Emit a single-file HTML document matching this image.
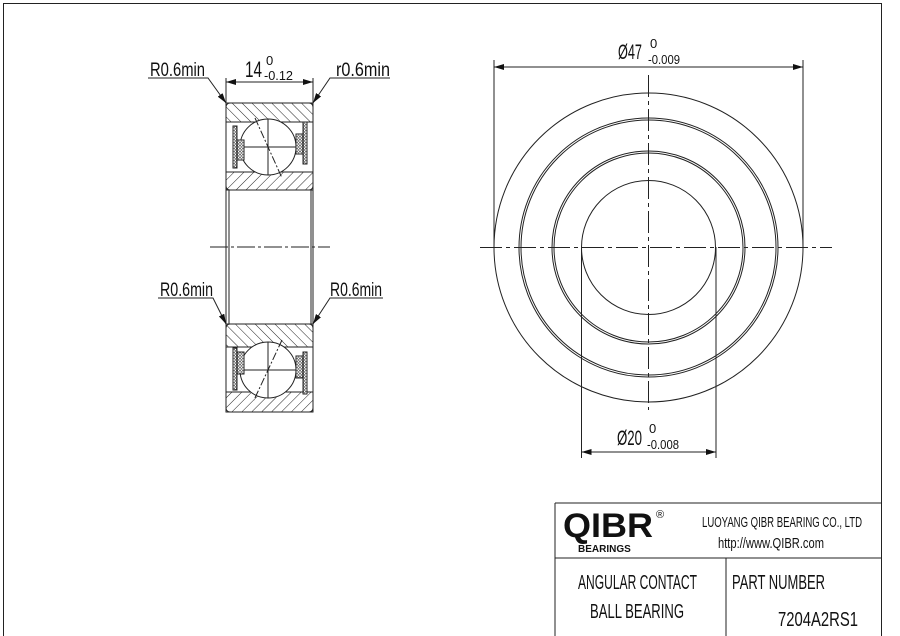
<!DOCTYPE html>
<html><head><meta charset="utf-8"><style>
body{margin:0;background:#fff}
svg{display:block}
text{font-family:"Liberation Sans Narrow","Liberation Sans",sans-serif;fill:#111}
</style></head><body>
<svg width="900" height="636" viewBox="0 0 900 636" xmlns="http://www.w3.org/2000/svg">
<defs>
<pattern id="h1" width="7" height="7" patternUnits="userSpaceOnUse" patternTransform="rotate(45)"><line x1="0" y1="0" x2="0" y2="7" stroke="#222" stroke-width="1"/></pattern>
<pattern id="h2" width="7" height="7" patternUnits="userSpaceOnUse" patternTransform="rotate(-45)"><line x1="0" y1="0" x2="0" y2="7" stroke="#222" stroke-width="1"/></pattern>
<pattern id="xh" width="3" height="3" patternUnits="userSpaceOnUse"><rect width="3" height="3" fill="#fff"/><circle cx="1.5" cy="1.5" r="1" fill="none" stroke="#222" stroke-width="0.6"/></pattern>
<marker id="ar" viewBox="0 0 10 6" refX="10" refY="3" markerWidth="10" markerHeight="6" orient="auto-start-reverse" markerUnits="userSpaceOnUse"><path d="M0,0L10,3L0,6z" fill="#111"/></marker>
</defs>
<g fill="none" stroke="#222" stroke-width="1">
<rect x="3.5" y="3.5" width="878" height="640"/>

<rect x="226" y="103" width="87" height="87" fill="#fff"/>
<path d="M226,103H313V122H226Z" fill="url(#h2)"/>
<path d="M226,172H313V190H226Z" fill="url(#h1)"/>
<rect x="226" y="103" width="87" height="87" rx="4"/>
<line x1="226" y1="122" x2="313" y2="122"/>
<line x1="226" y1="172" x2="313" y2="172"/>
<circle cx="268" cy="147" r="28" fill="#fff"/>
<line x1="240" y1="147" x2="296" y2="147"/><line x1="268" y1="119" x2="268" y2="175"/>
<line x1="255" y1="118" x2="282" y2="178" stroke-dasharray="8,2,2,2"/>
<rect x="233" y="126" width="4" height="42" fill="url(#xh)"/>
<rect x="303" y="122" width="4" height="42" fill="url(#xh)"/>
<rect x="237" y="140" width="7" height="20" fill="url(#xh)"/>
<rect x="296" y="134" width="7" height="20" fill="url(#xh)"/>
<line x1="229" y1="190" x2="229" y2="324"/><line x1="311" y1="190" x2="311" y2="324"/>
<line x1="226" y1="190" x2="226" y2="324"/><line x1="313" y1="190" x2="313" y2="324"/>
<rect x="226" y="324" width="87" height="88" fill="#fff"/>
<path d="M226,324H313V347H226Z" fill="url(#h2)"/>
<path d="M226,392H313V412H226Z" fill="url(#h1)"/>
<rect x="226" y="324" width="87" height="88" rx="4"/>
<line x1="226" y1="347" x2="313" y2="347"/>
<line x1="226" y1="392" x2="313" y2="392"/>
<circle cx="268" cy="370" r="28" fill="#fff"/>
<line x1="240" y1="370" x2="296" y2="370"/><line x1="268" y1="342" x2="268" y2="398"/>
<line x1="282" y1="340" x2="254" y2="400" stroke-dasharray="8,2,2,2"/>
<rect x="233" y="348" width="4" height="42" fill="url(#xh)"/>
<rect x="303" y="352" width="4" height="42" fill="url(#xh)"/>
<rect x="237" y="352" width="7" height="22" fill="url(#xh)"/>
<rect x="296" y="356" width="7" height="22" fill="url(#xh)"/>
<line x1="210" y1="247" x2="330" y2="247" stroke-dasharray="18,3,3,3"/>
<line x1="226" y1="78" x2="226" y2="103"/><line x1="313" y1="78" x2="313" y2="103"/>
<line x1="226" y1="82" x2="313" y2="82" marker-start="url(#ar)" marker-end="url(#ar)"/>
<polyline points="148,78 208,78 226,103" marker-end="url(#ar)"/>
<polyline points="390,78 330,78 313,103" marker-end="url(#ar)"/>
<polyline points="158,298 213,298 226,324" marker-end="url(#ar)"/>
<polyline points="383,298 330,298 313,324" marker-end="url(#ar)"/>

<circle cx="648.5" cy="247.5" r="154.5"/>
<circle cx="648.5" cy="247.5" r="129.5"/><circle cx="648.5" cy="247.5" r="127.5"/>
<circle cx="648.5" cy="247.5" r="96.5"/><circle cx="648.5" cy="247.5" r="94.5"/>
<circle cx="648.5" cy="247.5" r="67"/>
<line x1="480" y1="247.5" x2="832" y2="247.5" stroke-dasharray="22,4,4,4"/>
<line x1="648.5" y1="75" x2="648.5" y2="410" stroke-dasharray="22,4,4,4"/>
<line x1="494" y1="60" x2="494" y2="247"/><line x1="803" y1="60" x2="803" y2="247"/>
<line x1="494" y1="67" x2="803" y2="67" marker-start="url(#ar)" marker-end="url(#ar)"/>
<line x1="581.5" y1="247" x2="581.5" y2="458"/><line x1="716" y1="247" x2="716" y2="458"/>
<line x1="581.5" y1="452" x2="716" y2="452" marker-start="url(#ar)" marker-end="url(#ar)"/>

<line x1="555" y1="503" x2="882" y2="503"/>
<line x1="555" y1="503" x2="555" y2="636"/>
<line x1="555" y1="558" x2="882" y2="558"/>
<line x1="726" y1="558" x2="726" y2="636"/>
</g>
<g font-size="19">
<text x="150" y="76" textLength="55" lengthAdjust="spacingAndGlyphs">R0.6min</text>
<text x="336" y="76" textLength="54" lengthAdjust="spacingAndGlyphs">r0.6min</text>
<text x="160" y="296" textLength="53" lengthAdjust="spacingAndGlyphs">R0.6min</text>
<text x="330" y="296" textLength="52" lengthAdjust="spacingAndGlyphs">R0.6min</text>
<text x="245" y="77" font-size="22" textLength="17" lengthAdjust="spacingAndGlyphs">14</text>
<text x="266" y="65" font-size="13">0</text>
<text x="264" y="80" font-size="13" textLength="29" lengthAdjust="spacingAndGlyphs">-0.12</text>
<text x="618" y="59" font-size="21" textLength="24" lengthAdjust="spacingAndGlyphs">Ø47</text>
<text x="650" y="48" font-size="13">0</text>
<text x="648" y="64" font-size="13" textLength="32" lengthAdjust="spacingAndGlyphs">-0.009</text>
<text x="617" y="445" font-size="21" textLength="25" lengthAdjust="spacingAndGlyphs">Ø20</text>
<text x="649" y="433" font-size="13">0</text>
<text x="647" y="449" font-size="13" textLength="32" lengthAdjust="spacingAndGlyphs">-0.008</text>
<text x="702" y="527" font-size="15" textLength="160" lengthAdjust="spacingAndGlyphs">LUOYANG QIBR BEARING CO., LTD</text>
<text x="718" y="548" font-size="15" textLength="106" lengthAdjust="spacingAndGlyphs">http://www.QIBR.com</text>
<text x="578" y="589" font-size="20" textLength="119" lengthAdjust="spacingAndGlyphs">ANGULAR CONTACT</text>
<text x="590" y="618" font-size="20" textLength="94" lengthAdjust="spacingAndGlyphs">BALL BEARING</text>
<text x="732" y="589" font-size="20" textLength="93" lengthAdjust="spacingAndGlyphs">PART  NUMBER</text>
<text x="778" y="626" font-size="20" textLength="80" lengthAdjust="spacingAndGlyphs">7204A2RS1</text>
</g>
<text x="563" y="537" font-weight="bold" font-size="34" textLength="90" lengthAdjust="spacingAndGlyphs" style="font-family:'Liberation Sans',sans-serif">QIBR</text>
<text x="656" y="518" font-size="11" style="font-family:'Liberation Sans',sans-serif">®</text>
<text x="578" y="552" font-weight="bold" font-size="10" style="font-family:'Liberation Sans',sans-serif">BEARINGS</text>
</svg>
</body></html>
